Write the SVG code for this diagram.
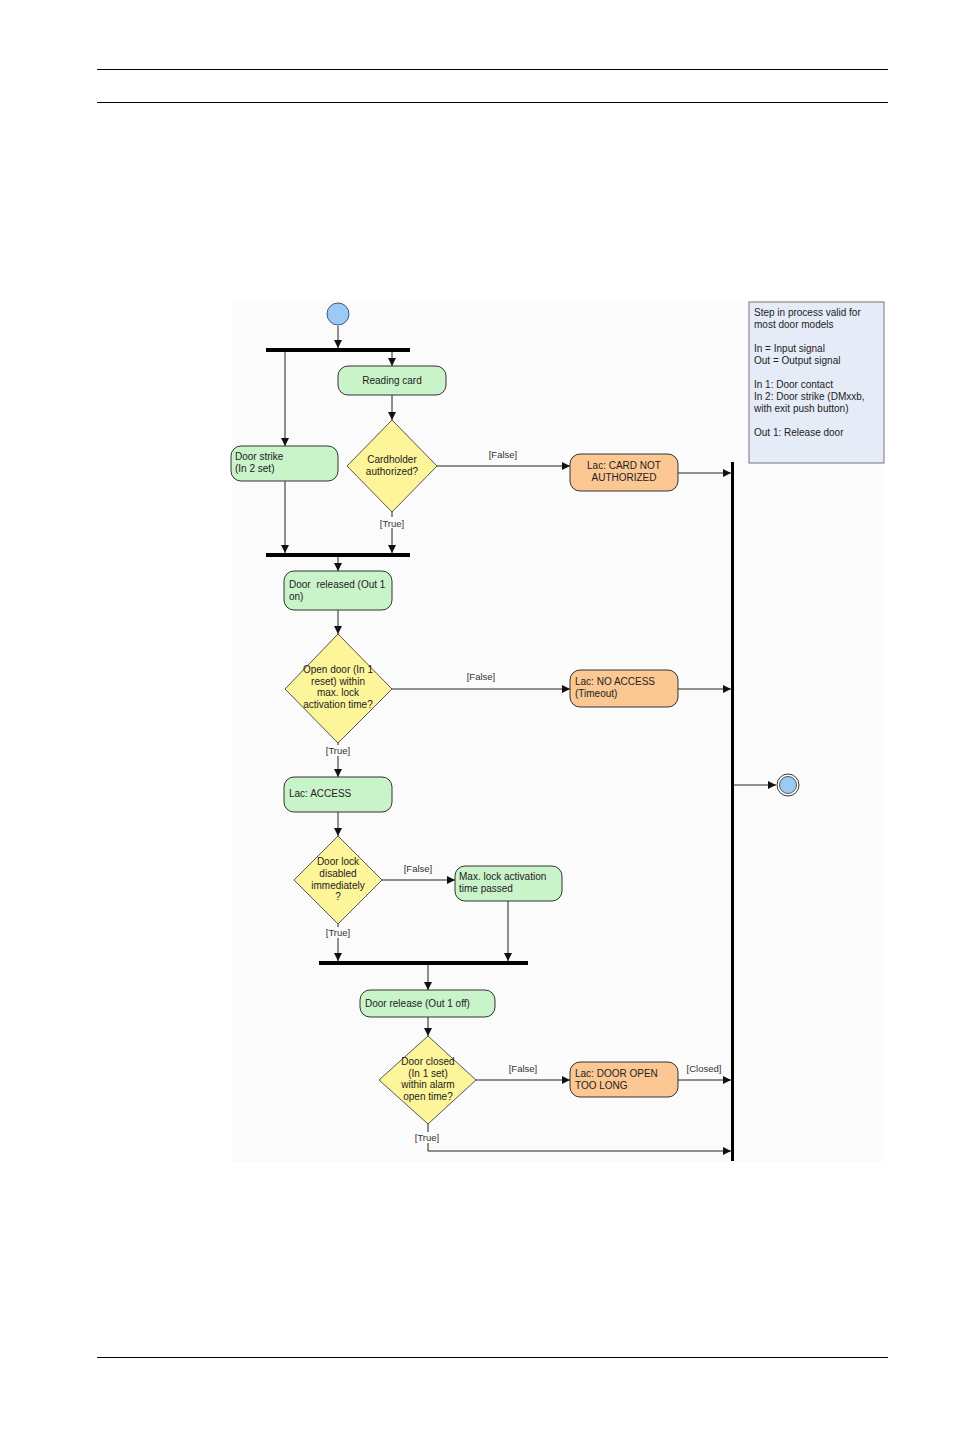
<svg xmlns="http://www.w3.org/2000/svg" width="954" height="1430" viewBox="0 0 954 1430">
<defs>
<marker id="ah" viewBox="0 0 8 8" refX="8" refY="4" markerWidth="8" markerHeight="8" markerUnits="userSpaceOnUse" orient="auto">
<path d="M0,0 L8,4 L0,8 z" fill="#111"/>
</marker>
<style>
.t{font-family:"Liberation Sans",Arial,sans-serif;font-size:10px;fill:#222}
.c{text-anchor:middle}
.lbl{font-family:"Liberation Sans",Arial,sans-serif;font-size:9.5px;fill:#333;text-anchor:middle}
.act{fill:#c9f3c9;stroke:#333;stroke-width:1}
.bad{fill:#fbc793;stroke:#333;stroke-width:1}
.dec{fill:#fdf59a;stroke:#555;stroke-width:1}
.ln{stroke:#222;stroke-width:1;fill:none}
.bar{stroke:#000;stroke-width:4}
.rule{stroke:#000;stroke-width:1}
.bg{fill:#fbfbfb}
</style>
</defs>
<rect width="954" height="1430" fill="#fff"/>
<line class="rule" x1="97" y1="69.5" x2="888" y2="69.5"/>
<line class="rule" x1="97" y1="102.5" x2="888" y2="102.5"/>
<line class="rule" x1="97" y1="1357.5" x2="888" y2="1357.5" stroke-width="1.5"/>
<rect class="bg" x="232" y="300" width="652" height="862"/>

<g id="connectors">
<line class="ln" x1="338" y1="326" x2="338" y2="348" marker-end="url(#ah)"/>
<line class="ln" x1="285" y1="352" x2="285" y2="446" marker-end="url(#ah)"/>
<line class="ln" x1="392" y1="348" x2="392" y2="366" marker-end="url(#ah)"/>
<line class="ln" x1="392" y1="395" x2="392" y2="420" marker-end="url(#ah)"/>
<line class="ln" x1="437" y1="466" x2="570" y2="466" marker-end="url(#ah)"/>
<text class="lbl" x="503" y="458">[False]</text>
<line class="ln" x1="678" y1="473" x2="731" y2="473" marker-end="url(#ah)"/>
<line class="ln" x1="392" y1="512" x2="392" y2="553" marker-end="url(#ah)"/>
<rect class="bg" x="376" y="517" width="32" height="11"/>
<text class="lbl" x="392" y="527">[True]</text>
<line class="ln" x1="285" y1="481" x2="285" y2="553" marker-end="url(#ah)"/>
<line class="ln" x1="338" y1="557" x2="338" y2="571" marker-end="url(#ah)"/>
<line class="ln" x1="338" y1="610" x2="338" y2="634" marker-end="url(#ah)"/>
<line class="ln" x1="392" y1="689" x2="570" y2="689" marker-end="url(#ah)"/>
<text class="lbl" x="481" y="680">[False]</text>
<line class="ln" x1="678" y1="689" x2="731" y2="689" marker-end="url(#ah)"/>
<line class="ln" x1="338" y1="743" x2="338" y2="777" marker-end="url(#ah)"/>
<rect class="bg" x="322" y="745" width="32" height="11"/>
<text class="lbl" x="338" y="754">[True]</text>
<line class="ln" x1="338" y1="812" x2="338" y2="836" marker-end="url(#ah)"/>
<line class="ln" x1="382" y1="880" x2="455" y2="880" marker-end="url(#ah)"/>
<text class="lbl" x="418" y="872">[False]</text>
<line class="ln" x1="508" y1="901" x2="508" y2="961" marker-end="url(#ah)"/>
<line class="ln" x1="338" y1="924" x2="338" y2="961" marker-end="url(#ah)"/>
<rect class="bg" x="322" y="927" width="32" height="11"/>
<text class="lbl" x="338" y="936">[True]</text>
<line class="ln" x1="428" y1="965" x2="428" y2="990" marker-end="url(#ah)"/>
<line class="ln" x1="428" y1="1017" x2="428" y2="1036" marker-end="url(#ah)"/>
<line class="ln" x1="476" y1="1080" x2="570" y2="1080" marker-end="url(#ah)"/>
<text class="lbl" x="523" y="1072">[False]</text>
<line class="ln" x1="678" y1="1080" x2="731" y2="1080" marker-end="url(#ah)"/>
<text class="lbl" x="704" y="1072">[Closed]</text>
<polyline class="ln" points="428,1124 428,1151 731,1151" marker-end="url(#ah)"/>
<rect class="bg" x="412" y="1132" width="32" height="11"/>
<text class="lbl" x="427" y="1141">[True]</text>
<line class="ln" x1="733" y1="785" x2="776" y2="785" marker-end="url(#ah)"/>
</g>

<g id="start"><circle cx="338" cy="314" r="11" fill="#9ccaf5" stroke="#3a5a80" stroke-width="1"/></g>
<g id="fork1"><line class="bar" x1="266" y1="350" x2="410" y2="350"/></g>
<g id="join1"><line class="bar" x1="266" y1="555" x2="410" y2="555"/></g>
<g id="join2"><line class="bar" x1="319" y1="963" x2="528" y2="963"/></g>
<g id="joinEnd"><line x1="732.5" y1="462" x2="732.5" y2="1161" stroke="#000" stroke-width="3"/></g>
<g id="end"><circle cx="788" cy="785" r="11" fill="#fff" stroke="#333" stroke-width="1"/><circle cx="788" cy="785" r="8.5" fill="#9ccaf5" stroke="#333" stroke-width="0.8"/></g>

<g id="reading"><rect class="act" x="338" y="366" width="108" height="29" rx="10"/><text class="t c" x="392" y="384">Reading card</text></g>
<g id="doorstrike"><rect class="act" x="231" y="446" width="107" height="35" rx="10"/><text class="t" x="235" y="460">Door strike</text><text class="t" x="235" y="472">(In 2 set)</text></g>
<g id="cardholder"><polygon class="dec" points="392,420 437,466 392,512 347,466"/><text class="t c" x="392" y="463">Cardholder</text><text class="t c" x="392" y="475">authorized?</text></g>
<g id="cardnot"><rect class="bad" x="570" y="454" width="108" height="37" rx="10"/><text class="t c" x="624" y="469">Lac: CARD NOT</text><text class="t c" x="624" y="481">AUTHORIZED</text></g>
<g id="released"><rect class="act" x="284" y="571" width="108" height="39" rx="10"/><text class="t" x="289" y="588">Door <tspan dx="3">released (Out 1</tspan></text><text class="t" x="289" y="600">on)</text></g>
<g id="opendoor"><polygon class="dec" points="338,634 392,689 338,743 285,689"/><text class="t c" x="338" y="673">Open door (In 1</text><text class="t c" x="338" y="685">reset) within</text><text class="t c" x="338" y="696">max. lock</text><text class="t c" x="338" y="708">activation time?</text></g>
<g id="noaccess"><rect class="bad" x="570" y="670" width="108" height="37" rx="10"/><text class="t" x="575" y="685">Lac: NO ACCESS</text><text class="t" x="575" y="697">(Timeout)</text></g>
<g id="access"><rect class="act" x="284" y="777" width="108" height="35" rx="10"/><text class="t" x="289" y="797">Lac: ACCESS</text></g>
<g id="doorlock"><polygon class="dec" points="338,836 382,880 338,924 294,880"/><text class="t c" x="338" y="865">Door lock</text><text class="t c" x="338" y="877">disabled</text><text class="t c" x="338" y="889">immediately</text><text class="t c" x="338" y="900">?</text></g>
<g id="maxlock"><rect class="act" x="455" y="866" width="107" height="35" rx="10"/><text class="t" x="459" y="880">Max. lock activation</text><text class="t" x="459" y="892">time passed</text></g>
<g id="release"><rect class="act" x="360" y="990" width="135" height="27" rx="10"/><text class="t" x="365" y="1007">Door release (Out 1 off)</text></g>
<g id="doorclosed"><polygon class="dec" points="428,1036 476,1080 428,1124 379,1080"/><text class="t c" x="428" y="1065">Door closed</text><text class="t c" x="428" y="1077">(In 1 set)</text><text class="t c" x="428" y="1088">within alarm</text><text class="t c" x="428" y="1100">open time?</text></g>
<g id="dooropen"><rect class="bad" x="570" y="1062" width="108" height="35" rx="10"/><text class="t" x="575" y="1077">Lac: DOOR OPEN</text><text class="t" x="575" y="1089">TOO LONG</text></g>

<g id="legend"><rect x="749" y="302" width="135" height="161" fill="#e6ebf8" stroke="#777" stroke-width="1"/>
<text class="t" x="754" y="316" font-size="9.5">Step in process valid for</text>
<text class="t" x="754" y="328" font-size="9.5">most door models</text>
<text class="t" x="754" y="352" font-size="9.5">In = Input signal</text>
<text class="t" x="754" y="364" font-size="9.5">Out = Output signal</text>
<text class="t" x="754" y="388" font-size="9.5">In 1: Door contact</text>
<text class="t" x="754" y="400" font-size="9.5">In 2: Door strike (DMxxb,</text>
<text class="t" x="754" y="412" font-size="9.5">with exit push button)</text>
<text class="t" x="754" y="436" font-size="9.5">Out 1: Release door</text>
</g>
</svg>
